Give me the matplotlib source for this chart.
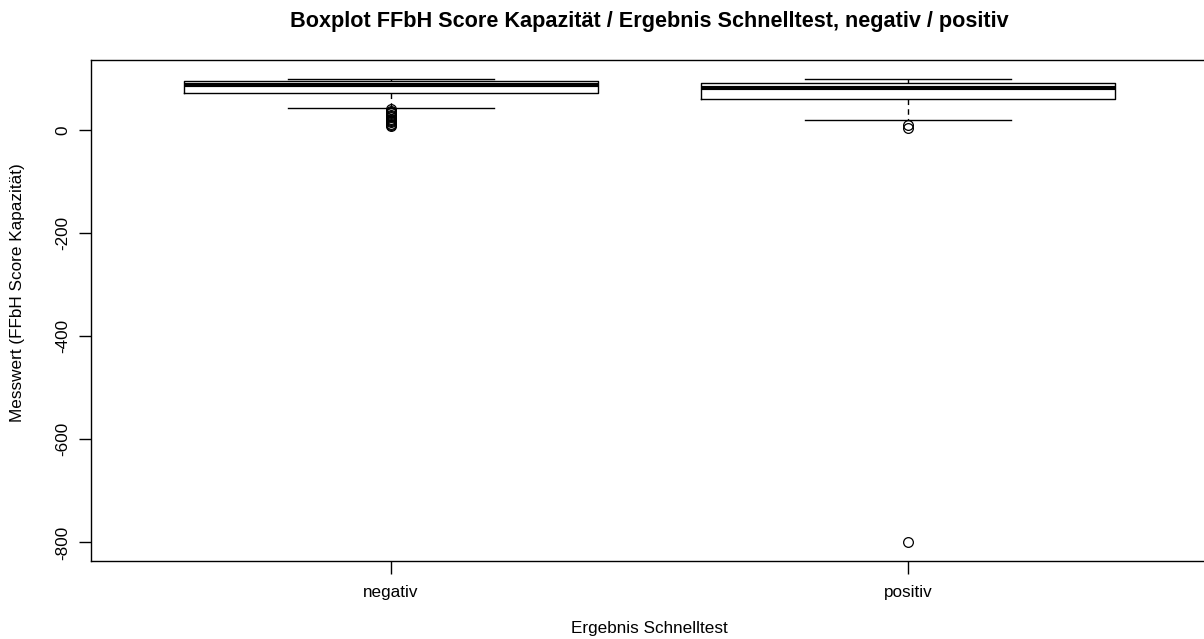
import matplotlib
matplotlib.use("Agg")
import matplotlib.pyplot as plt

plt.rcParams['font.family'] = ['Liberation Sans', 'DejaVu Sans']

categories = ["negativ", "positiv"]
q1 = [72, 61]
median = [88, 81]
q3 = [95, 92]
whisker_low = [43, 20]
whisker_high = [100, 100]
outliers = [
    [40, 37, 35, 33, 30, 27, 25, 22, 20, 17, 15, 12, 10, 8],
    [10, 5, -800],
]

title = "Boxplot FFbH Score Kapazität / Ergebnis Schnelltest, negativ / positiv"
xlabel = "Ergebnis Schnelltest"
ylabel = "Messwert (FFbH Score Kapazität)"
yticks = [0, -200, -400, -600, -800]

stats = []
for i, c in enumerate(categories):
    stats.append(dict(label=c, q1=q1[i], med=median[i], q3=q3[i],
                      whislo=whisker_low[i], whishi=whisker_high[i],
                      fliers=outliers[i]))

W, H = 1204, 639
fig = plt.figure(figsize=(W / 100, H / 100), dpi=100)
left, right, top, bottom = 91, 1208, 60, 561
ax = fig.add_axes([left / W, 1 - bottom / H, (right - left) / W, (bottom - top) / H])

ax.bxp(stats, positions=[1, 2], widths=0.8, patch_artist=False,
       boxprops=dict(color='black', linewidth=1.0),
       medianprops=dict(color='black', linewidth=3.0, solid_capstyle='butt'),
       whiskerprops=dict(color='black', linewidth=1.0, linestyle=(0, (4, 3))),
       capprops=dict(color='black', linewidth=1.0),
       capwidths=0.4,
       flierprops=dict(marker='o', markerfacecolor='none', markeredgecolor='black',
                       markersize=7, markeredgewidth=0.9, linestyle='none'))

ax.set_xlim(0.42, 2.58)
ax.set_ylim(-836, 136)
ax.set_xticks([1, 2])
ax.set_xticklabels(categories)
ax.set_yticks(yticks)
ax.set_yticklabels([str(v) for v in yticks], rotation=90, va='center')
ax.tick_params(axis='both', direction='out', length=9, width=1.0, labelsize=12.3, pad=8)
ax.tick_params(axis='y', pad=6)
for s in ['left', 'bottom', 'top']:
    ax.spines[s].set_linewidth(1.0)
ax.spines['right'].set_visible(False)

fig.text((left + right) / 2 / W, 1 - 22 / H, title, ha='center', va='center',
         fontsize=15.6, fontweight='bold')
fig.text((left + right) / 2 / W, 1 - 629 / H, xlabel, ha='center', va='center', fontsize=12.3)
fig.text(18 / W, 1 - 293 / H, ylabel, ha='center', va='center', rotation=90, fontsize=12.3)

fig.savefig("out.png", dpi=100)
